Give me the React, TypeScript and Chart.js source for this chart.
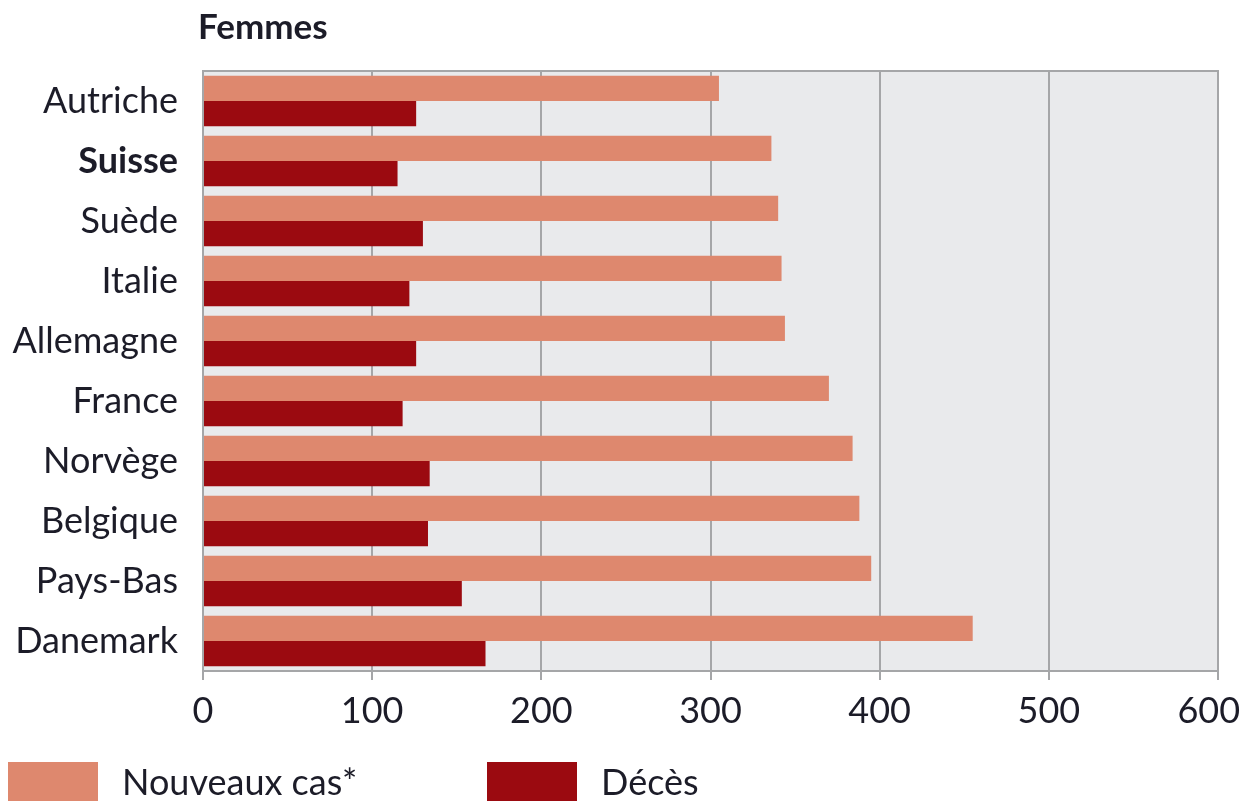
import React, { useEffect, useRef } from "react";
import { Chart, registerables } from "chart.js";

Chart.register(...registerables);

const TITLE = "Femmes";
const COUNTRIES = [
  "Autriche",
  "Suisse",
  "Suède",
  "Italie",
  "Allemagne",
  "France",
  "Norvège",
  "Belgique",
  "Pays-Bas",
  "Danemark",
];
const NOUVEAUX_CAS = [305, 336, 340, 342, 344, 370, 384, 388, 395, 455];
const DECES = [126, 115, 130, 122, 126, 118, 134, 133, 153, 167];
const SERIES_LABELS = ["Nouveaux cas*", "Décès"];
const SERIES_COLORS = ["#de886e", "#9b0a10"];
const X_MIN = 0;
const X_MAX = 600;
const X_STEP = 100;
const BOLD_CATEGORY = "Suisse";

const FONT = "Lato, 'Open Sans', sans-serif";
const TEXT_COLOR = "#1c1c28";
const GRID_COLOR = "#a5a6a8";
const PLOT_BG = "#e9eaec";

const decorPlugin = {
  id: "decor",
  beforeDraw(chart: any) {
    const { ctx, chartArea } = chart;
    ctx.save();
    ctx.fillStyle = PLOT_BG;
    ctx.fillRect(
      chartArea.left,
      chartArea.top,
      chartArea.right - chartArea.left,
      chartArea.bottom - chartArea.top
    );
    ctx.restore();
  },
  afterDraw(chart: any) {
    const { ctx, chartArea } = chart;
    ctx.save();
    // top border of plot
    ctx.strokeStyle = GRID_COLOR;
    ctx.lineWidth = 2;
    ctx.beginPath();
    ctx.moveTo(chartArea.left - 1, chartArea.top);
    ctx.lineTo(chartArea.right + 1, chartArea.top);
    ctx.stroke();

    // title
    ctx.fillStyle = TEXT_COLOR;
    ctx.font = `bold 35px ${FONT}`;
    ctx.textBaseline = "middle";
    ctx.textAlign = "left";
    ctx.fillText(TITLE, 190, 20);

    // legend
    const starts = [0, 479];
    chart.data.datasets.forEach((ds: any, i: number) => {
      const x = starts[i];
      ctx.fillStyle = ds.backgroundColor;
      ctx.fillRect(x, 754, 90, 44);
      ctx.fillStyle = TEXT_COLOR;
      ctx.font = `36px ${FONT}`;
      ctx.textBaseline = "middle";
      ctx.fillText(ds.label, x + 114, 775);
    });
    ctx.restore();
  },
};

export default function App() {
  const ref = useRef<HTMLCanvasElement | null>(null);

  useEffect(() => {
    if (!ref.current) return;
    const chart = new Chart(ref.current, {
      type: "bar",
      data: {
        labels: COUNTRIES,
        datasets: [
          {
            label: SERIES_LABELS[0],
            data: NOUVEAUX_CAS,
            backgroundColor: SERIES_COLORS[0],
            borderWidth: 0,
            categoryPercentage: 0.84,
            barPercentage: 1.0,
          },
          {
            label: SERIES_LABELS[1],
            data: DECES,
            backgroundColor: SERIES_COLORS[1],
            borderWidth: 0,
            categoryPercentage: 0.84,
            barPercentage: 1.0,
          },
        ],
      },
      options: {
        indexAxis: "y",
        responsive: false,
        animation: false,
        layout: { padding: { top: 63, right: 24, left: 0, bottom: 0 } },
        plugins: {
          legend: { display: false },
          tooltip: { enabled: false },
          title: { display: false },
        },
        scales: {
          x: {
            min: X_MIN,
            max: X_MAX,
            ticks: {
              stepSize: X_STEP,
              padding: 10,
              color: TEXT_COLOR,
              font: { family: FONT, size: 36 },
              maxRotation: 0,
              // last label is nudged inward (trailing spaces) so it stays on the page
              callback: (v: any) => (Number(v) === X_MAX ? `${v}  ` : `${v}`),
            },
            grid: {
              color: GRID_COLOR,
              lineWidth: 2,
              drawTicks: true,
              tickLength: 9,
              tickColor: GRID_COLOR,
            },
            border: { display: true, color: GRID_COLOR, width: 2 },
            afterFit(scale: any) {
              scale.height = 130;
              scale.paddingRight = 0;
              scale.paddingLeft = 0;
            },
          },
          y: {
            ticks: {
              padding: 25,
              color: TEXT_COLOR,
              font: (c: any) => ({
                family: FONT,
                size: 36,
                weight: COUNTRIES[c.index] === BOLD_CATEGORY ? "bold" : "normal",
              }),
            },
            grid: { display: false, drawTicks: false },
            border: { display: false },
            afterFit(scale: any) {
              scale.width = 195;
            },
          },
        },
      },
      plugins: [decorPlugin],
    });
    return () => chart.destroy();
  }, []);

  return (
    <div style={{ width: 1234, height: 793 }}>
      <canvas ref={ref} width={1234} height={793} style={{ display: "block" }} />
    </div>
  );
}
